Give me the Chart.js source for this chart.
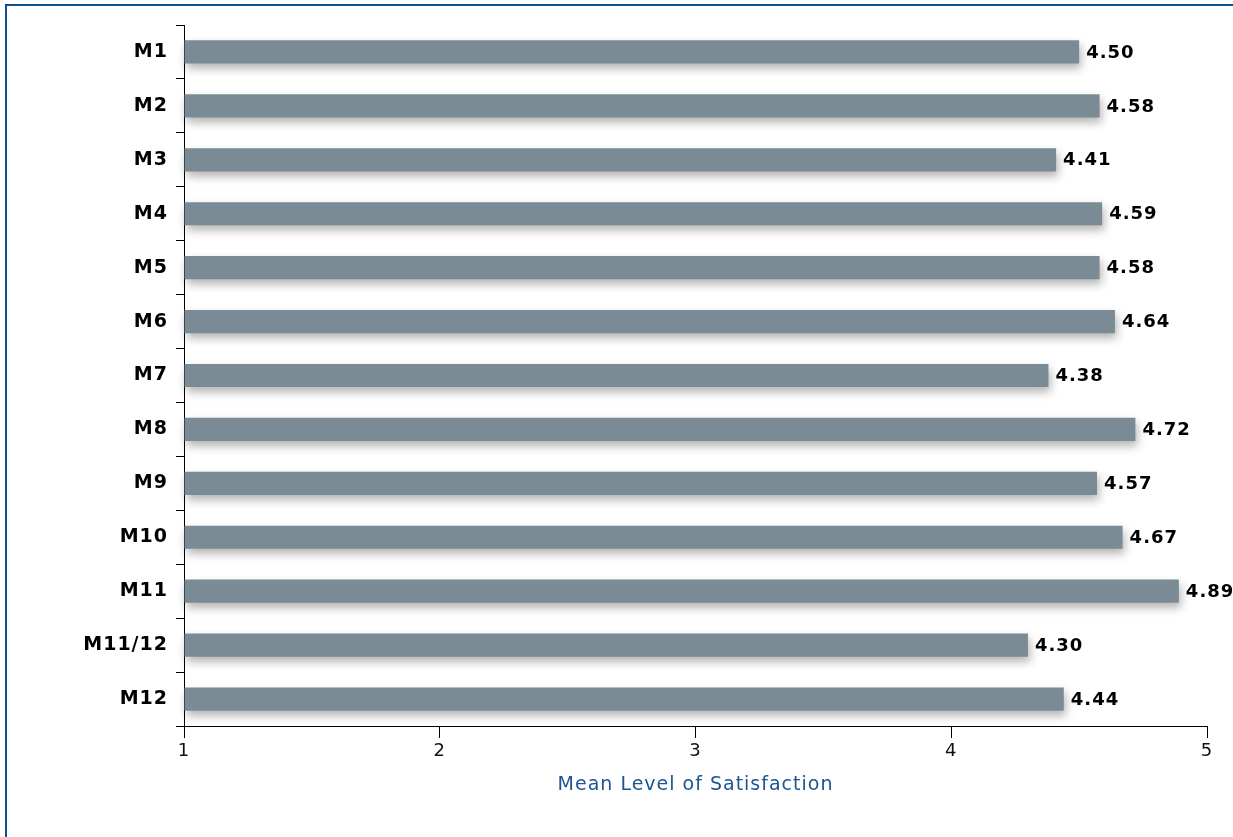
<!DOCTYPE html>
<html>
<head>
<meta charset="utf-8">
<script src="https://cdn.jsdelivr.net/npm/chart.js@4/dist/chart.umd.min.js"></script>
<style>
  html, body { margin: 0; padding: 0; background: #ffffff; }
  #wrap { position: relative; width: 1233px; height: 837px; overflow: hidden; }
  #frameTop { position: absolute; left: 5px; top: 4px; width: 1228px; height: 2px; background: #0c4f8e; }
  #frameLeft { position: absolute; left: 5px; top: 4px; width: 2px; height: 833px; background: #0c4f8e; }
  canvas { position: absolute; left: 0; top: 0; }
</style>
</head>
<body>
<div id="wrap">
  <canvas id="chart" width="1233" height="837"></canvas>
  <div id="frameTop"></div>
  <div id="frameLeft"></div>
</div>
<script>
// Mean satisfaction score per module
const categories = ['M1', 'M2', 'M3', 'M4', 'M5', 'M6', 'M7', 'M8', 'M9', 'M10', 'M11', 'M11/12', 'M12'];
const meanScores = [4.50, 4.58, 4.41, 4.59, 4.58, 4.64, 4.38, 4.72, 4.57, 4.67, 4.89, 4.30, 4.44];
const scaleTicks = [1, 2, 3, 4, 5];
const axisTitle = 'Mean Level of Satisfaction';

const FONT = "'DejaVu Sans', sans-serif";

// Wider letter spacing for all canvas text
const spacingPlugin = {
  id: 'spacing',
  beforeDraw(chart) { chart.ctx.letterSpacing = '1px'; }
};

// Soft drop shadow under the bars
const shadowPlugin = {
  id: 'barShadow',
  beforeDatasetsDraw(chart) {
    const ctx = chart.ctx;
    ctx.save();
    ctx.shadowColor = 'rgba(0,0,0,0.3)';
    ctx.shadowBlur = 10;
    ctx.shadowOffsetX = 2;
    ctx.shadowOffsetY = 5;
  },
  afterDatasetsDraw(chart) {
    chart.ctx.restore();
  }
};

// Value labels at the end of each bar
const valueLabelPlugin = {
  id: 'valueLabels',
  afterDatasetsDraw(chart) {
    const ctx = chart.ctx;
    const meta = chart.getDatasetMeta(0);
    const data = chart.data.datasets[0].data;
    ctx.save();
    ctx.letterSpacing = '1px';
    ctx.font = "bold 18px " + FONT;
    ctx.fillStyle = '#000000';
    ctx.textAlign = 'left';
    ctx.textBaseline = 'middle';
    meta.data.forEach((bar, i) => {
      ctx.fillText(data[i].toFixed(2), bar.x + 7, bar.y + 1);
    });
    ctx.restore();
  }
};

new Chart(document.getElementById('chart'), {
  type: 'bar',
  data: {
    labels: categories,
    datasets: [{
      data: meanScores,
      base: 1,
      backgroundColor: '#7a8b95',
      borderWidth: 0,
      barPercentage: 0.86,
      categoryPercentage: 0.5,
      clip: false
    }]
  },
  options: {
    indexAxis: 'y',
    responsive: false,
    animation: false,
    layout: { padding: { top: 25, right: 26, left: 0, bottom: 0 } },
    plugins: {
      legend: { display: false },
      tooltip: { enabled: false }
    },
    scales: {
      x: {
        type: 'linear',
        min: 1,
        max: 5,
        afterBuildTicks(scale) { scale.ticks = scaleTicks.map(v => ({ value: v })); },
        afterFit(scale) { scale.height = 111; },
        border: { display: true, color: '#000000', width: 1 },
        grid: { drawOnChartArea: false, drawTicks: true, tickLength: 12, color: '#000000', lineWidth: 1 },
        ticks: {
          color: '#111111',
          font: { family: FONT, size: 18 },
          padding: 3,
          maxRotation: 0
        },
        title: {
          display: true,
          text: axisTitle,
          color: '#1b5593',
          font: { family: FONT, size: 19 },
          padding: { top: 0, bottom: 41 }
        }
      },
      y: {
        afterFit(scale) { scale.width = 184; },
        border: { display: true, color: '#000000', width: 1 },
        grid: { offset: true, drawOnChartArea: false, drawTicks: true, tickLength: 8, color: '#000000', lineWidth: 1 },
        ticks: {
          color: '#000000',
          font: { family: FONT, size: 19, weight: 'bold' },
          padding: 8
        }
      }
    }
  },
  plugins: [spacingPlugin, shadowPlugin, valueLabelPlugin]
});
</script>
</body>
</html>
